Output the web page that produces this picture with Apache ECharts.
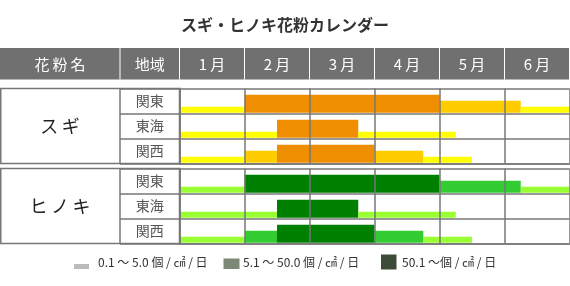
<!DOCTYPE html>
<html>
<head>
<meta charset="utf-8">
<script src="https://cdn.jsdelivr.net/npm/echarts@6/dist/echarts.min.js"></script>
<style>
html,body{margin:0;padding:0;background:#fff;}
#chart{width:570px;height:286px;}
</style>
</head>
<body>
<div id="chart"></div>
<script>
// ---- data ----
const titleText = 'スギ・ヒノキ花粉カレンダー';
const headerLabels = ['花粉名', '地域'];
const months = ['1月', '2月', '3月', '4月', '5月', '6月'];
const regions = ['関東', '東海', '関西'];
const pollens = ['スギ', 'ヒノキ'];
// segments: [start month offset, end month offset, level (1..3)]
const sugiKanto  = [[0, 1, 1], [1, 4, 3], [4, 5.25, 2], [5.25, 6, 1]];
const sugiTokai  = [[0, 1.5, 1], [1.5, 2.75, 3], [2.75, 4.25, 1]];
const sugiKansai = [[0, 1, 1], [1, 1.5, 2], [1.5, 3, 3], [3, 3.75, 2], [3.75, 4.5, 1]];
const hinokiKanto  = [[0, 1, 1], [1, 4, 3], [4, 5.25, 2], [5.25, 6, 1]];
const hinokiTokai  = [[0, 1.5, 1], [1.5, 2.75, 3], [2.75, 4.25, 1]];
const hinokiKansai = [[0, 1, 1], [1, 1.5, 2], [1.5, 3, 3], [3, 3.75, 2], [3.75, 4.5, 1]];
const sugiColors = ['#FFFF00', '#FFCC00', '#EE8E00'];
const hinokiColors = ['#99FF33', '#33CC33', '#008000'];
const legendLabels = ['0.1 ～ 5.0 個 / ㎠ / 日', '5.1 ～ 50.0 個 / ㎠ / 日', '50.1 ～個 / ㎠ / 日'];
const legendColors = ['#BBBBBB', '#7B8777', '#3D4C38'];

// ---- layout ----
const FONT = '"Noto Sans CJK JP", "Noto Sans", sans-serif';
const LINE = '#777777';
const LW = 1.5;
const gridLeft = 179.5, gridW = 390, rowsH = 75;
const gridTops = [88.5, 168.5];
const nameColR = 120;

function toData(rows) {
  const out = [];
  rows.forEach((segs, r) => segs.forEach(s => out.push([r, s[0], s[1], s[2]])));
  return out;
}
function spaced(s) { return s.split('').join('\u2009'); }

const chart = echarts.init(document.getElementById('chart'), null, {renderer: 'canvas'});

const grids = gridTops.map(t => ({
  left: gridLeft, top: t, width: gridW, height: rowsH,
  show: false, containLabel: false
}));

const xAxes = [];
const yAxes = [];
gridTops.forEach((t, gi) => {
  xAxes.push({
    type: 'value', gridIndex: gi, min: 0, max: months.length, interval: 1,
    position: 'bottom', z: 5,
    axisLine: {show: true, lineStyle: {color: LINE, width: LW}},
    axisTick: {show: false}, axisLabel: {show: false},
    splitLine: {show: true, lineStyle: {color: LINE, width: LW}}
  });
  yAxes.push({
    type: 'category', gridIndex: gi, data: regions, inverse: true, z: 5,
    axisLine: {show: true, lineStyle: {color: LINE, width: LW}},
    axisTick: {show: true, interval: 0, length: gridLeft - nameColR, lineStyle: {color: LINE, width: LW}},
    axisLabel: {show: true, color: '#555', fontSize: 14, fontFamily: FONT, align: 'center', margin: (gridLeft - nameColR) / 2},
    splitLine: {show: true, interval: 0, lineStyle: {color: LINE, width: LW}}
  });
});
// header month axis
xAxes.push({
  type: 'category', gridIndex: 0, data: months, position: 'top', offset: 9, z: 3,
  axisLine: {show: false},
  axisTick: {show: true, interval: 0, length: 31.5, lineStyle: {color: '#fff', width: 1}},
  axisLabel: {show: true, color: '#fff', fontSize: 15, fontFamily: FONT, margin: 15.5,
              verticalAlign: 'middle', formatter: v => spaced(v)},
  splitLine: {show: false}
});

function makeSeries(gi, data, colors) {
  return {
    type: 'custom', xAxisIndex: gi, yAxisIndex: gi, z: 2,
    encode: {x: [1, 2], y: 0},
    data: data,
    renderItem: function (params, api) {
      const r = api.value(0);
      const p0 = api.coord([api.value(1), r]);
      const p1 = api.coord([api.value(2), r]);
      const band = api.size([0, 1])[1];
      const lvl = api.value(3);
      const bottom = p0[1] + band / 2 - 0.7;
      const h = lvl * 6;
      return {
        type: 'rect',
        shape: {x: p0[0], y: bottom - h, width: p1[0] - p0[0], height: h},
        style: {fill: colors[lvl - 1]}
      };
    }
  };
}

const graphics = [];
// header band
graphics.push({type: 'rect', left: 0, top: 48, shape: {x: 0, y: 48, width: 569.5, height: 31.5}, style: {fill: '#707070'}, z: 0, silent: true});
graphics.push({type: 'line', shape: {x1: nameColR, y1: 48, x2: nameColR, y2: 79.5}, style: {stroke: '#fff', lineWidth: 1}, z: 1});
graphics.push({type: 'text', style: {x: nameColR / 2, y: 64, text: spaced(headerLabels[0]), fill: '#fff', fontSize: 15, fontFamily: FONT, textAlign: 'center', textVerticalAlign: 'middle'}, z: 2});
graphics.push({type: 'text', style: {x: (nameColR + gridLeft) / 2, y: 64, text: headerLabels[1], fill: '#fff', fontSize: 15, fontFamily: FONT, textAlign: 'center', textVerticalAlign: 'middle'}, z: 2});
// left frames
gridTops.forEach((t, gi) => {
  graphics.push({type: 'rect', shape: {x: 0.75, y: t, width: gridLeft - 0.75, height: rowsH}, style: {fill: 'none', stroke: LINE, lineWidth: LW}, z: 1});
  graphics.push({type: 'line', shape: {x1: nameColR, y1: t, x2: nameColR, y2: t + rowsH}, style: {stroke: LINE, lineWidth: LW}, z: 1});
  graphics.push({type: 'text', style: {x: nameColR / 2, y: t + rowsH / 2 + 0.5, text: spaced(pollens[gi]), fill: '#222', fontSize: 18, fontFamily: FONT, textAlign: 'center', textVerticalAlign: 'middle'}, z: 2});
});
// legend
const legendBoxes = [
  {x: 74, y: 264, w: 15, h: 5, tx: 98},
  {x: 223.5, y: 258.5, w: 16, h: 10.5, tx: 243},
  {x: 381, y: 254.5, w: 15.5, h: 15, tx: 402}
];
legendBoxes.forEach((b, i) => {
  graphics.push({type: 'rect', shape: {x: b.x, y: b.y, width: b.w, height: b.h}, style: {fill: legendColors[i]}, z: 2});
  graphics.push({type: 'text', style: {x: b.tx, y: 262, text: legendLabels[i], fill: '#333', fontSize: 12, fontFamily: FONT, textAlign: 'left', textVerticalAlign: 'middle'}, z: 2});
});

chart.setOption({
  backgroundColor: '#fff',
  animation: false,
  title: {
    text: titleText, left: 'center', top: 12,
    textStyle: {fontSize: 16, fontWeight: 'bold', color: '#333', fontFamily: FONT}
  },
  grid: grids,
  xAxis: xAxes,
  yAxis: yAxes,
  graphic: graphics,
  series: [
    makeSeries(0, toData([sugiKanto, sugiTokai, sugiKansai]), sugiColors),
    makeSeries(1, toData([hinokiKanto, hinokiTokai, hinokiKansai]), hinokiColors)
  ]
});
</script>
</body>
</html>
